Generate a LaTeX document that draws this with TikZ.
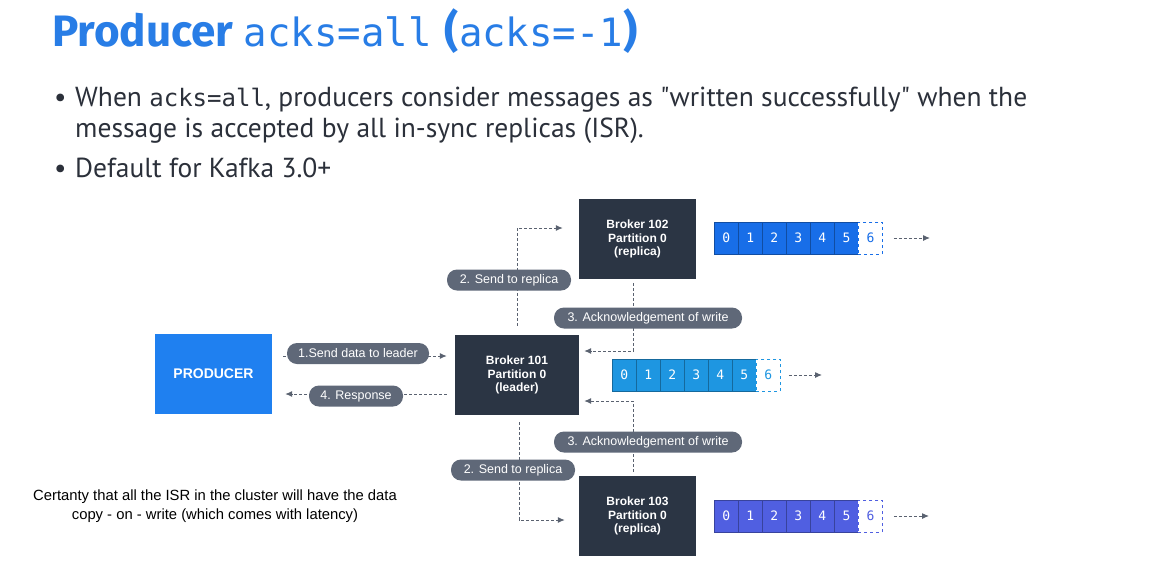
\documentclass[tikz,border=0pt]{standalone}
\usepackage{fontspec}
\setmainfont{Liberation Sans}
\newfontfamily\titlesans{Fira Sans}
\newfontfamily\bodysans{PT Sans}
\newfontfamily\monof{DejaVu Sans Mono}
\usetikzlibrary{arrows.meta}
\definecolor{titleblue}{RGB}{40,125,230}
\definecolor{bodytext}{RGB}{43,48,58}
\definecolor{prodblue}{RGB}{31,128,240}
\definecolor{brokerdark}{RGB}{43,53,68}
\definecolor{pillgray}{RGB}{95,104,120}
\definecolor{arrgray}{RGB}{90,98,112}
\definecolor{arrA}{RGB}{24,110,232}
\definecolor{arrB}{RGB}{30,150,225}
\definecolor{arrC}{RGB}{80,95,225}
\tikzset{
  broker/.style={fill=brokerdark, text=white, font=\fontsize{12}{13.5}\selectfont\bfseries, align=center, minimum width=#1, minimum height=80pt, inner sep=0pt},
  pill/.style={fill=pillgray, text=white, rounded corners=10pt, font=\fontsize{12.5}{14}\selectfont, minimum height=21pt, minimum width=#1, inner sep=0pt},
  conn/.style={draw=arrgray, line width=1pt, dash pattern=on 3pt off 2pt, -{Latex[length=7pt,width=6pt]}},
  cell/.style={minimum width=24pt, minimum height=32pt, inner sep=0pt, font=\monof\fontsize{13}{14}\selectfont, anchor=west},
  bodytxt/.style={anchor=base west, inner sep=0pt, text=bodytext, font=\bodysans\fontsize{27.5}{30}\selectfont},
}
\newcommand{\partarray}[4]{% name, x, y, color
  \foreach \i in {0,...,5}{
    \node[cell, fill=#4, draw=#4!70!black, line width=0.8pt, text=white] (#1c\i) at (#2+24*\i,#3) {\i};
  }
  \node[cell, fill=white, draw=#4, dashed, line width=0.8pt, text=#4] (#1c6) at (#2+144,#3) {6};
}
\begin{document}
\begin{tikzpicture}[x=1pt,y=-1pt]
\useasboundingbox[fill=white] (0,0) rectangle (1158,576);
% title
\node[anchor=base west, inner sep=0pt, text=titleblue] (title) at (52,46)
  {{\titlesans\bfseries\fontsize{44}{48}\selectfont Producer }{\monof\fontsize{39}{44}\selectfont acks=all}\hspace{13pt}{\titlesans\bfseries\fontsize{44}{48}\selectfont(}{\monof\fontsize{39}{44}\selectfont acks=-1}{\titlesans\bfseries\fontsize{44}{48}\selectfont)}};
% bullets
\node[bodytxt] (b1) at (54,106) {•};
\node[bodytxt] (t1) at (75,106) {When {\monof\fontsize{24}{30}\selectfont acks=all}, producers consider messages as "written successfully" when the};
\node[bodytxt] (t2) at (75,137) {message is accepted by all in-sync replicas (ISR).};
\node[bodytxt] (b2) at (54,177) {•};
\node[bodytxt] (t3) at (75,177) {Default for Kafka 3.0+};
% boxes
\node[fill=prodblue, text=white, font=\fontsize{14}{16}\selectfont\bfseries, minimum width=117pt, minimum height=80pt, inner sep=0pt] (prod) at (213.5,374) {PRODUCER};
\node[broker=124pt] (b101) at (517,375) {Broker 101\\Partition 0\\(leader)};
\node[broker=117pt] (b102) at (637.5,239) {Broker 102\\Partition 0\\(replica)};
\node[broker=117pt] (b103) at (637.5,516) {Broker 103\\Partition 0\\(replica)};
% arrays
\partarray{pa}{714}{238}{arrA}
\partarray{pb}{612}{375}{arrB}
\partarray{pc}{714}{516}{arrC}
\coordinate (ea) at (930,238);
\coordinate (eb) at (822,375);
\coordinate (ec) at (929,516);
\draw[conn, shorten <=11pt] (pac6.east) -- (ea);
\draw[conn, shorten <=8pt] (pbc6.east) -- (eb);
\draw[conn, shorten <=11pt] (pcc6.east) -- (ec);
% connectors
\draw[conn, shorten <=11pt, shorten >=8pt] (prod.east |- 0,356) -- (b101.west |- 0,356);
\draw[conn, shorten <=8pt, shorten >=13pt] (b101.west |- 0,394) -- (prod.east |- 0,394);
\draw[conn, shorten <=9pt, shorten >=16pt] (b101.north -| 517,0) -- (517,228) -- (b102.west |- 0,228);
\draw[conn, shorten <=4pt, shorten >=5pt] (b102.south -| 633,0) -- (633,351) -- (b101.east |- 0,351);
\draw[conn, shorten <=4pt, shorten >=5pt] (b103.north -| 633,0) -- (633,401) -- (b101.east |- 0,401);
\draw[conn, shorten <=7pt, shorten >=14pt] (b101.south -| 519,0) -- (519,520) -- (b103.west |- 0,520);
% pills
\node[pill=142pt] (p1) at (358,353.5) {1.Send data to leader};
\node[pill=94pt] (p4) at (356,396) {4. Response};
\node[pill=124pt] (p2a) at (509,280) {2. Send to replica};
\node[pill=188pt] (p3a) at (648,318) {3. Acknowledgement of write};
\node[pill=188pt] (p3b) at (648,442) {3. Acknowledgement of write};
\node[pill=124pt] (p2b) at (513,470) {2. Send to replica};
% caption
\node[align=center, inner sep=0pt, text=black, font=\fontsize{14.8}{19}\selectfont] (cap) at (215,506) {Certanty that all the ISR in the cluster will have the data\\copy - on - write (which comes with latency)};
\end{tikzpicture}
\end{document}
